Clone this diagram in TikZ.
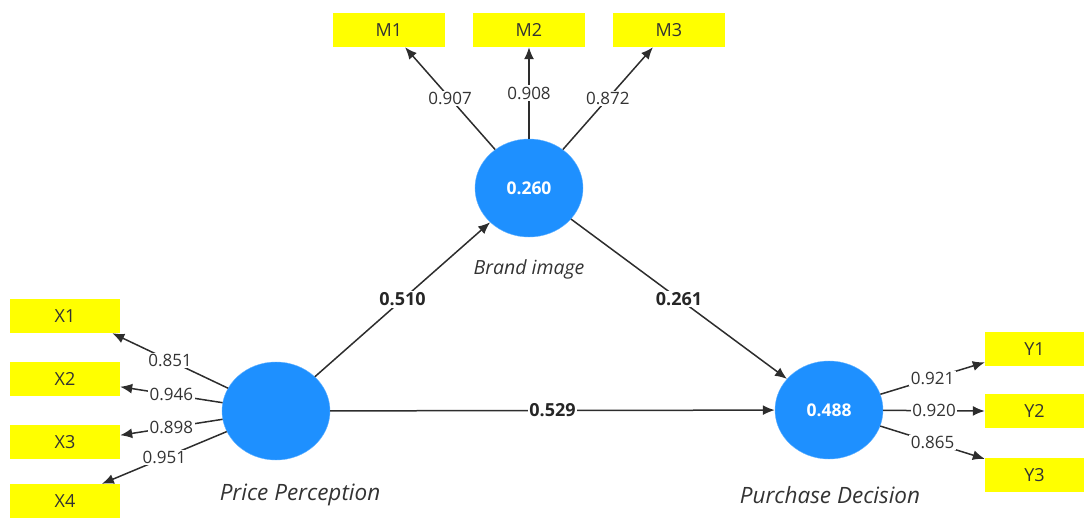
\documentclass[tikz,border=0pt]{standalone}
\usepackage{fontspec}
\setmainfont{Open Sans}
\usetikzlibrary{shapes.geometric,arrows.meta}
\definecolor{lvblue}{RGB}{30,144,255}
\definecolor{mvyellow}{RGB}{255,255,0}
\definecolor{linegray}{RGB}{45,45,45}

\begin{document}
\begin{tikzpicture}
  [x=1pt,y=-1pt,
   latentN/.style={ellipse,fill=lvblue,draw=lvblue!70,minimum width=108pt,minimum height=98pt,
                   text=white,font=\fontsize{17.5}{17.5}\selectfont\bfseries},
   itemN/.style={rectangle,fill=mvyellow,minimum width=110pt,minimum height=34pt,inner sep=0pt,
                 text=black!80,font=\fontsize{18}{18}\selectfont},
   nameN/.style={text=black!80,font=\fontsize{22.5}{22.5}\selectfont\itshape},
   loadL/.style={fill=white,inner sep=1.5pt,text=black!80,font=\fontsize{17}{17}\selectfont},
   pathL/.style={fill=white,inner sep=1.5pt,text=black!85,font=\fontsize{18}{18}\selectfont\bfseries},
   arr/.style={draw=linegray,line width=1.5pt,-{Latex[length=12pt,width=10pt]}}]

  \useasboundingbox (0,0) rectangle (1084,519);

  \node[latentN] (pp) at (276,411) {};
  \node[latentN] (bi) at (529,188) {0.260};
  \node[latentN] (pd) at (829,410) {0.488};

  \node[nameN] (ppname) at (300,495) {Price Perception};
  \node[nameN,font=\fontsize{19.5}{19.5}\selectfont\itshape] (biname) at (529,269) {Brand image};
  \node[nameN] (pdname) at (830,495) {Purchase Decision};

  \node[itemN] (x1) at (65,316) {X1};
  \node[itemN] (x2) at (65,379) {X2};
  \node[itemN] (x3) at (65,442) {X3};
  \node[itemN] (x4) at (65,501) {X4};

  \node[itemN,minimum width=112pt] (m1) at (389,30) {M1};
  \node[itemN,minimum width=112pt] (m2) at (529,30) {M2};
  \node[itemN,minimum width=112pt] (m3) at (669,30) {M3};

  \node[itemN,minimum width=99pt] (y1) at (1034.5,349) {Y1};
  \node[itemN,minimum width=99pt] (y2) at (1034.5,411) {Y2};
  \node[itemN,minimum width=99pt] (y3) at (1034.5,475) {Y3};

  % outer loadings
  \draw [arr] (pp) -- node[loadL] {0.851} (x1.-20);
  \draw [arr] (pp) -- node[loadL] {0.946} (x2.-8);
  \draw [arr] (pp) -- node[loadL] {0.898} (x3.7);
  \draw [arr] (pp) -- node[loadL] {0.951} (x4.25);

  \draw [arr] (bi) -- node[loadL] {0.907} (m1.-47);
  \draw [arr] (bi) -- node[loadL] {0.908} (m2.south);
  \draw [arr] (bi) -- node[loadL] {0.872} (m3.-133);

  \draw [arr] (pd) -- node[loadL] {0.921} (y1.195);
  \draw [arr] (pd) -- node[loadL] {0.920} (y2.west);
  \draw [arr] (pd) -- node[loadL] {0.865} (y3.162);

  % path coefficients
  \draw [arr] (pp) -- node[pathL] {0.510} (bi);
  \draw [arr] (bi) -- node[pathL] {0.261} (pd);
  \draw [arr] (pp) -- node[pathL] {0.529} (pd);
\end{tikzpicture}
\end{document}
